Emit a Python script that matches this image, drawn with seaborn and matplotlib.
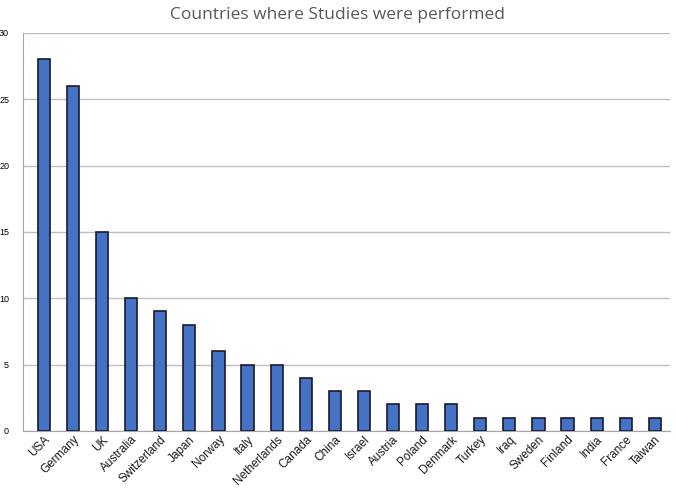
import matplotlib
matplotlib.use('Agg')
import matplotlib.pyplot as plt
import pandas as pd
import seaborn as sns

countries = ['USA', 'Germany', 'UK', 'Australia', 'Switzerland', 'Japan', 'Norway',
             'Italy', 'Netherlands', 'Canada', 'China', 'Israel', 'Austria', 'Poland',
             'Denmark', 'Turkey', 'Iraq', 'Sweden', 'Finland', 'India', 'France', 'Taiwan']
studies = [28, 26, 15, 10, 9, 8, 6, 5, 5, 4, 3, 3, 2, 2, 2, 1, 1, 1, 1, 1, 1, 1]
y_ticks = [0, 5, 10, 15, 20, 25, 30]

df = pd.DataFrame({'country': countries, 'studies': studies})

sns.set_style('white')
plt.rcParams['font.family'] = ['Liberation Sans', 'DejaVu Sans']

fig = plt.figure(figsize=(6.76, 4.97), dpi=100)
ax = fig.add_axes([0.034, 0.133, 0.957, 0.801])

sns.barplot(data=df, x='country', y='studies', color='#4472c4', saturation=1,
            width=0.42, edgecolor='#1a1a2e', linewidth=1.2, ax=ax, zorder=3)

ax.set_ylim(0, 30)
ax.set_yticks(y_ticks)
ax.set_xlim(-0.72, len(countries) - 1 + 0.52)
ax.yaxis.grid(True, color='#bfbfbf', linewidth=1, zorder=0)
ax.set_axisbelow(True)
for s in ['top', 'right']:
    ax.spines[s].set_visible(False)
ax.spines['left'].set_color('#a6a6a6')
ax.spines['bottom'].set_color('#a6a6a6')
ax.tick_params(axis='y', length=4, color='#bfbfbf', labelsize=6.5, pad=6,
               labelcolor='black')
ax.tick_params(axis='x', length=0, labelsize=8.5, pad=2, labelcolor='#1a1a1a')
plt.setp(ax.get_xticklabels(), rotation=45, ha='right', rotation_mode='anchor')
ax.set_xlabel('')
ax.set_ylabel('')
fig.suptitle('Countries where Studies were performed', y=0.985, fontsize=12.5,
             color='#595959', family=['Open Sans', 'DejaVu Sans'])

fig.savefig('out.png', dpi=100)
